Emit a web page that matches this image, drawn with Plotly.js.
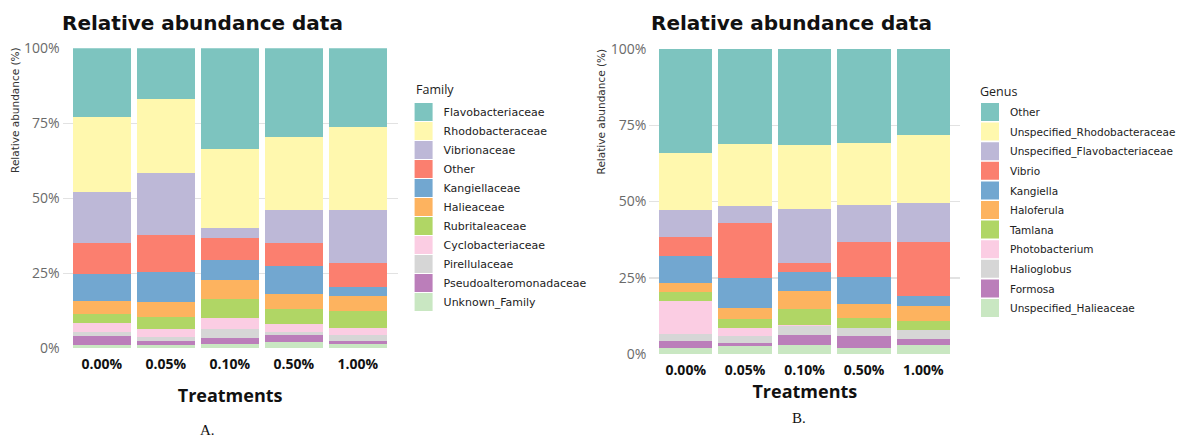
<!DOCTYPE html>
<html>
<head>
<meta charset="utf-8">
<script src="https://cdn.plot.ly/plotly-3.0.1.min.js"></script>
<style>
html,body{margin:0;padding:0;background:#fff;}
#chart{width:1181px;height:437px;}
</style>
</head>
<body>
<div id="chart"></div>
<script>
// ---------- data ----------
const treatments = ['0.00%', '0.05%', '0.10%', '0.50%', '1.00%'];
const yTickVals = [0, 25, 50, 75, 100];
const yTickText = ['0%', '25%', '50%', '75%', '100%'];

// Panel A: Family (legend order, top to bottom)
const familyNames = ['Flavobacteriaceae', 'Rhodobacteraceae', 'Vibrionaceae', 'Other', 'Kangiellaceae',
  'Halieaceae', 'Rubritaleaceae', 'Cyclobacteriaceae', 'Pirellulaceae', 'Pseudoalteromonadaceae', 'Unknown_Family'];
const flavobacteriaceae      = [23.0, 17.0, 33.5, 29.6, 26.2];
const rhodobacteraceae       = [25.0, 24.7, 26.3, 24.2, 27.6];
const vibrionaceae           = [17.0, 20.5, 3.4, 11.1, 17.7];
const familyOther            = [10.3, 12.4, 7.5, 7.7, 8.0];
const kangiellaceae          = [8.8, 9.9, 6.5, 9.3, 3.0];
const halieaceae             = [4.6, 5.2, 6.3, 5.0, 5.2];
const rubritaleaceae         = [3.0, 4.0, 6.3, 4.9, 5.4];
const cyclobacteriaceae      = [2.8, 2.4, 3.7, 2.7, 2.4];
const pirellulaceae          = [1.4, 1.6, 3.2, 1.1, 2.0];
const pseudoalteromonadaceae = [3.0, 1.1, 1.9, 2.2, 1.1];
const unknownFamily          = [1.1, 1.2, 1.4, 2.2, 1.4];
const familyValues = [flavobacteriaceae, rhodobacteraceae, vibrionaceae, familyOther, kangiellaceae,
  halieaceae, rubritaleaceae, cyclobacteriaceae, pirellulaceae, pseudoalteromonadaceae, unknownFamily];

// Panel B: Genus (legend order, top to bottom)
const genusNames = ['Other', 'Unspecified_Rhodobacteraceae', 'Unspecified_Flavobacteriaceae', 'Vibrio', 'Kangiella',
  'Haloferula', 'Tamlana', 'Photobacterium', 'Halioglobus', 'Formosa', 'Unspecified_Halieaceae'];
const genusOther          = [34.0, 31.1, 31.5, 30.9, 28.2];
const unspecRhodo         = [18.9, 20.4, 20.9, 20.2, 22.2];
const unspecFlavo         = [8.8, 5.5, 17.7, 12.3, 12.9];
const vibrio              = [6.2, 18.1, 3.0, 11.2, 17.6];
const kangiella           = [8.8, 9.7, 6.3, 9.1, 3.3];
const haloferula          = [2.9, 3.7, 5.7, 4.5, 5.0];
const tamlana             = [3.0, 3.0, 5.5, 3.2, 2.9];
const photobacterium      = [10.8, 2.5, 0.1, 0.1, 0.1];
const halioglobus         = [2.2, 2.3, 3.2, 2.7, 2.8];
const formosa             = [2.5, 1.0, 3.3, 3.9, 2.2];
const unspecHalie         = [1.9, 2.7, 2.8, 1.9, 2.8];
const genusValues = [genusOther, unspecRhodo, unspecFlavo, vibrio, kangiella,
  haloferula, tamlana, photobacterium, halioglobus, formosa, unspecHalie];

const palette = ['#7DC4BF', '#FFF8AE', '#BDB8D7', '#FB7F6F', '#72A7D0', '#FDB35F',
  '#B0D665', '#FBCDE3', '#D6D6D6', '#BB7EBA', '#C9E7C2'];

// ---------- traces ----------
const traces = [];
for (let i = familyNames.length - 1; i >= 0; i--) {
  traces.push({
    type: 'bar', x: treatments, y: familyValues[i], name: familyNames[i],
    marker: {color: palette[i], line: {width: 0}},
    xaxis: 'x', yaxis: 'y', legend: 'legend', hoverinfo: 'name+y'
  });
}
for (let i = genusNames.length - 1; i >= 0; i--) {
  traces.push({
    type: 'bar', x: treatments, y: genusValues[i], name: genusNames[i],
    legendgroup: 'g_' + genusNames[i], legendrank: i + 1,
    marker: {color: palette[i], line: {width: 0}},
    xaxis: 'x2', yaxis: 'y2', legend: 'legend2', hoverinfo: 'name+y'
  });
}

const W = 1181, H = 437;
const px = v => v / W;
const py = v => 1 - v / H;

const tickFontX = {family: 'Open Sans, sans-serif', size: 14, color: '#111', weight: 'bold'};
const tickFontY = {family: 'Open Sans, sans-serif', size: 14, color: '#6a6a6a'};
const xTitleFont = {family: 'Open Sans, sans-serif', size: 18, color: '#111', weight: 'bold'};

function xAxis(domain, standoff) {
  return {
    domain: domain, type: 'category', range: [-0.61, 4.62],
    showgrid: false, zeroline: false, showline: false, ticks: '',
    tickfont: tickFontX, ticklabelstandoff: 6,
    title: {text: 'Treatments', font: xTitleFont, standoff: standoff},
    fixedrange: true
  };
}
function yAxis(domain, anchor) {
  return {
    domain: domain, anchor: anchor, range: [0, 100],
    tickvals: yTickVals, ticktext: yTickText, tickfont: tickFontY,
    showgrid: true, gridcolor: '#E2E2E2', gridwidth: 1.5,
    zeroline: false, showline: false, ticks: '', ticklabelstandoff: 2,
    fixedrange: true
  };
}

const legendFontA = {family: 'DejaVu Sans, sans-serif', size: 11, color: '#222'};
const legendFontB = {family: 'DejaVu Sans, sans-serif', size: 10.5, color: '#222'};

const layout = {
  width: W, height: H,
  margin: {l: 0, r: 0, t: 0, b: 0},
  paper_bgcolor: '#fff', plot_bgcolor: '#fff',
  barmode: 'stack', bargap: 0.1,
  showlegend: true,
  xaxis: Object.assign(xAxis([px(63), px(400)], 17), {anchor: 'y'}),
  yaxis: yAxis([py(348.3), py(48.3)], 'x'),
  xaxis2: Object.assign(xAxis([px(653.3), px(966)], 7), {anchor: 'y2'}),
  yaxis2: yAxis([py(354), py(49)], 'x2'),
  legend: {
    x: px(406), y: py(97.5), xanchor: 'left', yanchor: 'top',
    traceorder: 'reversed', font: legendFontA, bgcolor: 'rgba(0,0,0,0)',
    borderwidth: 0, tracegroupgap: 0
  },
  legend2: {
    x: px(976), y: py(97.5), xanchor: 'left', yanchor: 'top',
    traceorder: 'grouped', font: legendFontB, bgcolor: 'rgba(0,0,0,0)',
    borderwidth: 0, tracegroupgap: 0.6
  },
  annotations: [
    {text: '<b>Relative abundance data</b>', x: px(204), y: py(23), xref: 'paper', yref: 'paper',
      showarrow: false, xanchor: 'center', yanchor: 'middle',
      font: {family: 'DejaVu Sans, sans-serif', size: 20, color: '#111'}},
    {text: '<b>Relative abundance data</b>', x: px(796.5), y: py(23), xref: 'paper', yref: 'paper',
      showarrow: false, xanchor: 'center', yanchor: 'middle',
      font: {family: 'DejaVu Sans, sans-serif', size: 20, color: '#111'}},
    {text: 'Relative abundance (%)', x: px(15), y: py(110), xref: 'paper', yref: 'paper',
      showarrow: false, textangle: -90, xanchor: 'center', yanchor: 'middle',
      font: {family: 'DejaVu Sans, sans-serif', size: 10.5, color: '#333'}},
    {text: 'Relative abundance (%)', x: px(605), y: py(111), xref: 'paper', yref: 'paper',
      showarrow: false, textangle: -90, xanchor: 'center', yanchor: 'middle',
      font: {family: 'DejaVu Sans, sans-serif', size: 10.5, color: '#333'}},
    {text: 'Family', x: px(416), y: py(89), xref: 'paper', yref: 'paper',
      showarrow: false, xanchor: 'left', yanchor: 'middle',
      font: {family: 'Open Sans, sans-serif', size: 12.5, color: '#222'}},
    {text: 'Genus', x: px(984), y: py(91), xref: 'paper', yref: 'paper',
      showarrow: false, xanchor: 'left', yanchor: 'middle',
      font: {family: 'Open Sans, sans-serif', size: 12.5, color: '#222'}},
    {text: 'A.', x: px(209), y: py(430), xref: 'paper', yref: 'paper',
      showarrow: false, xanchor: 'center', yanchor: 'middle',
      font: {family: 'Liberation Serif, serif', size: 15, color: '#111'}},
    {text: 'B.', x: px(804), y: py(418), xref: 'paper', yref: 'paper',
      showarrow: false, xanchor: 'center', yanchor: 'middle',
      font: {family: 'Liberation Serif, serif', size: 15, color: '#111'}}
  ]
};

Plotly.newPlot('chart', traces, layout, {displayModeBar: false, staticPlot: true}).then(function (gd) {
  // enlarge legend swatches to match the reference's square keys (keep Plotly's own offset)
  gd.querySelectorAll('g.legendpoints path').forEach(function (p) {
    const t = p.getAttribute('transform') || '';
    p.setAttribute('transform', t + ' scale(1.5)');
  });
});
</script>
</body>
</html>
